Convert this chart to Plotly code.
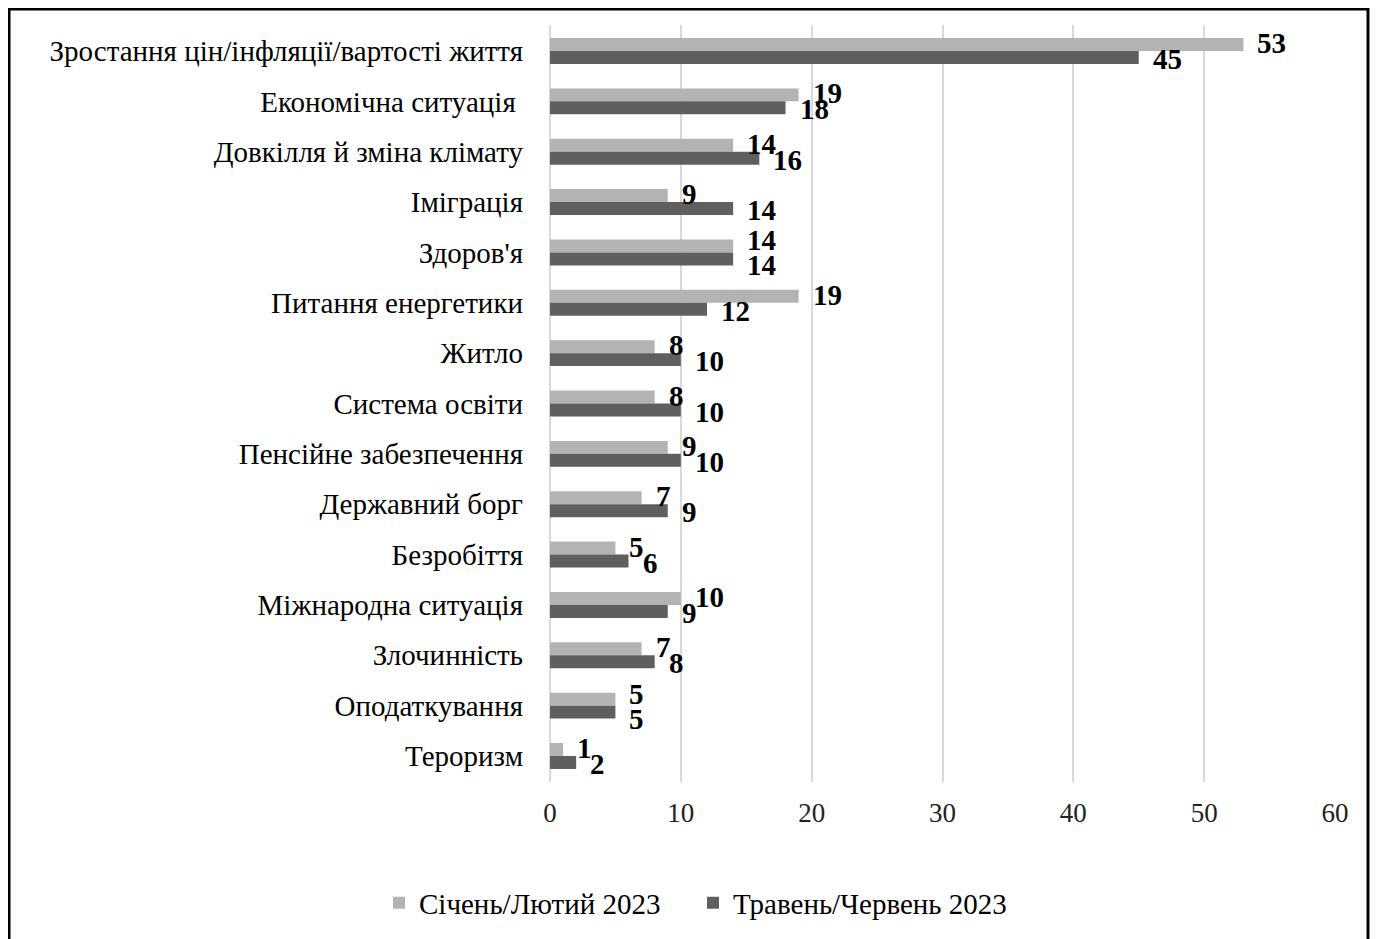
import plotly.graph_objects as go

categories = [
    "Зростання цін/інфляції/вартості життя",
    "Економічна ситуація ",
    "Довкілля й зміна клімату",
    "Іміграція",
    "Здоров'я",
    "Питання енергетики",
    "Житло",
    "Система освіти",
    "Пенсійне забезпечення",
    "Державний борг",
    "Безробіття",
    "Міжнародна ситуація",
    "Злочинність",
    "Оподаткування",
    "Тероризм",
]
series1_name = "Січень/Лютий 2023"
series2_name = "Травень/Червень 2023"
series1 = [53, 19, 14, 9, 14, 19, 8, 8, 9, 7, 5, 10, 7, 5, 1]
series2 = [45, 18, 16, 14, 14, 12, 10, 10, 10, 9, 6, 9, 8, 5, 2]
x_ticks = [0, 10, 20, 30, 40, 50, 60]

FONT = "Liberation Serif"
C1 = "#b3b3b3"
C2 = "#5f5f5f"

W, H = 1370, 931  # page body adds an 8px margin

fig = go.Figure()
fig.add_trace(go.Bar(y=categories, x=series1, name=series1_name, orientation="h",
                     marker=dict(color=C1, line=dict(width=0))))
fig.add_trace(go.Bar(y=categories, x=series2, name=series2_name, orientation="h",
                     marker=dict(color=C2, line=dict(width=0))))

annotations = []
for c, v1, v2 in zip(categories, series1, series2):
    same = v1 == v2
    up = 12 if same else 8
    down = -13 if same else -8
    annotations.append(dict(x=v1, y=c, xref="x", yref="y", text=f"<b>{v1}</b>", showarrow=False,
                            xanchor="left", yanchor="middle", xshift=12, yshift=up,
                            font=dict(family=FONT, size=29, color="black")))
    annotations.append(dict(x=v2, y=c, xref="x", yref="y", text=f"<b>{v2}</b>", showarrow=False,
                            xanchor="left", yanchor="middle", xshift=12, yshift=down,
                            font=dict(family=FONT, size=29, color="black")))

fig.update_layout(
    width=W, height=H,
    paper_bgcolor="white", plot_bgcolor="white",
    margin=dict(l=542, r=43, t=17, b=157),
    barmode="group", bargap=0.485, bargroupgap=0,
    font=dict(family=FONT, size=24, color="black"),
    showlegend=True,
    legend=dict(orientation="h", xref="container", yref="container", x=0.5, xanchor="center",
                y=1 - 895 / H, yanchor="middle", font=dict(family=FONT, size=29, color="black"),
                itemwidth=30, traceorder="normal", entrywidth=269, entrywidthmode="pixels"),
    annotations=annotations,
    shapes=[dict(type="rect", xref="paper", yref="paper",
                 x0=(1 - 542) / 785, x1=(1360 - 542) / 785, y0=-0.25, y1=1 + 16 / 757,
                 line=dict(color="black", width=3), fillcolor="rgba(0,0,0,0)", layer="above")],
)
fig.update_xaxes(range=[0, 60], tickvals=x_ticks, ticktext=[str(t) for t in x_ticks],
                 showgrid=True, gridcolor="#d9d9d9", gridwidth=1.5,
                 zeroline=True, zerolinecolor="#d9d9d9", zerolinewidth=1.5,
                 showline=False, ticks="", ticklabelstandoff=12,
                 tickfont=dict(family=FONT, size=27, color="#222222"))
fig.update_yaxes(autorange="reversed", showgrid=False, showline=False, ticks="",
                 ticklabelstandoff=26, tickfont=dict(family=FONT, size=29, color="black"))

fig.write_html("out.html")
